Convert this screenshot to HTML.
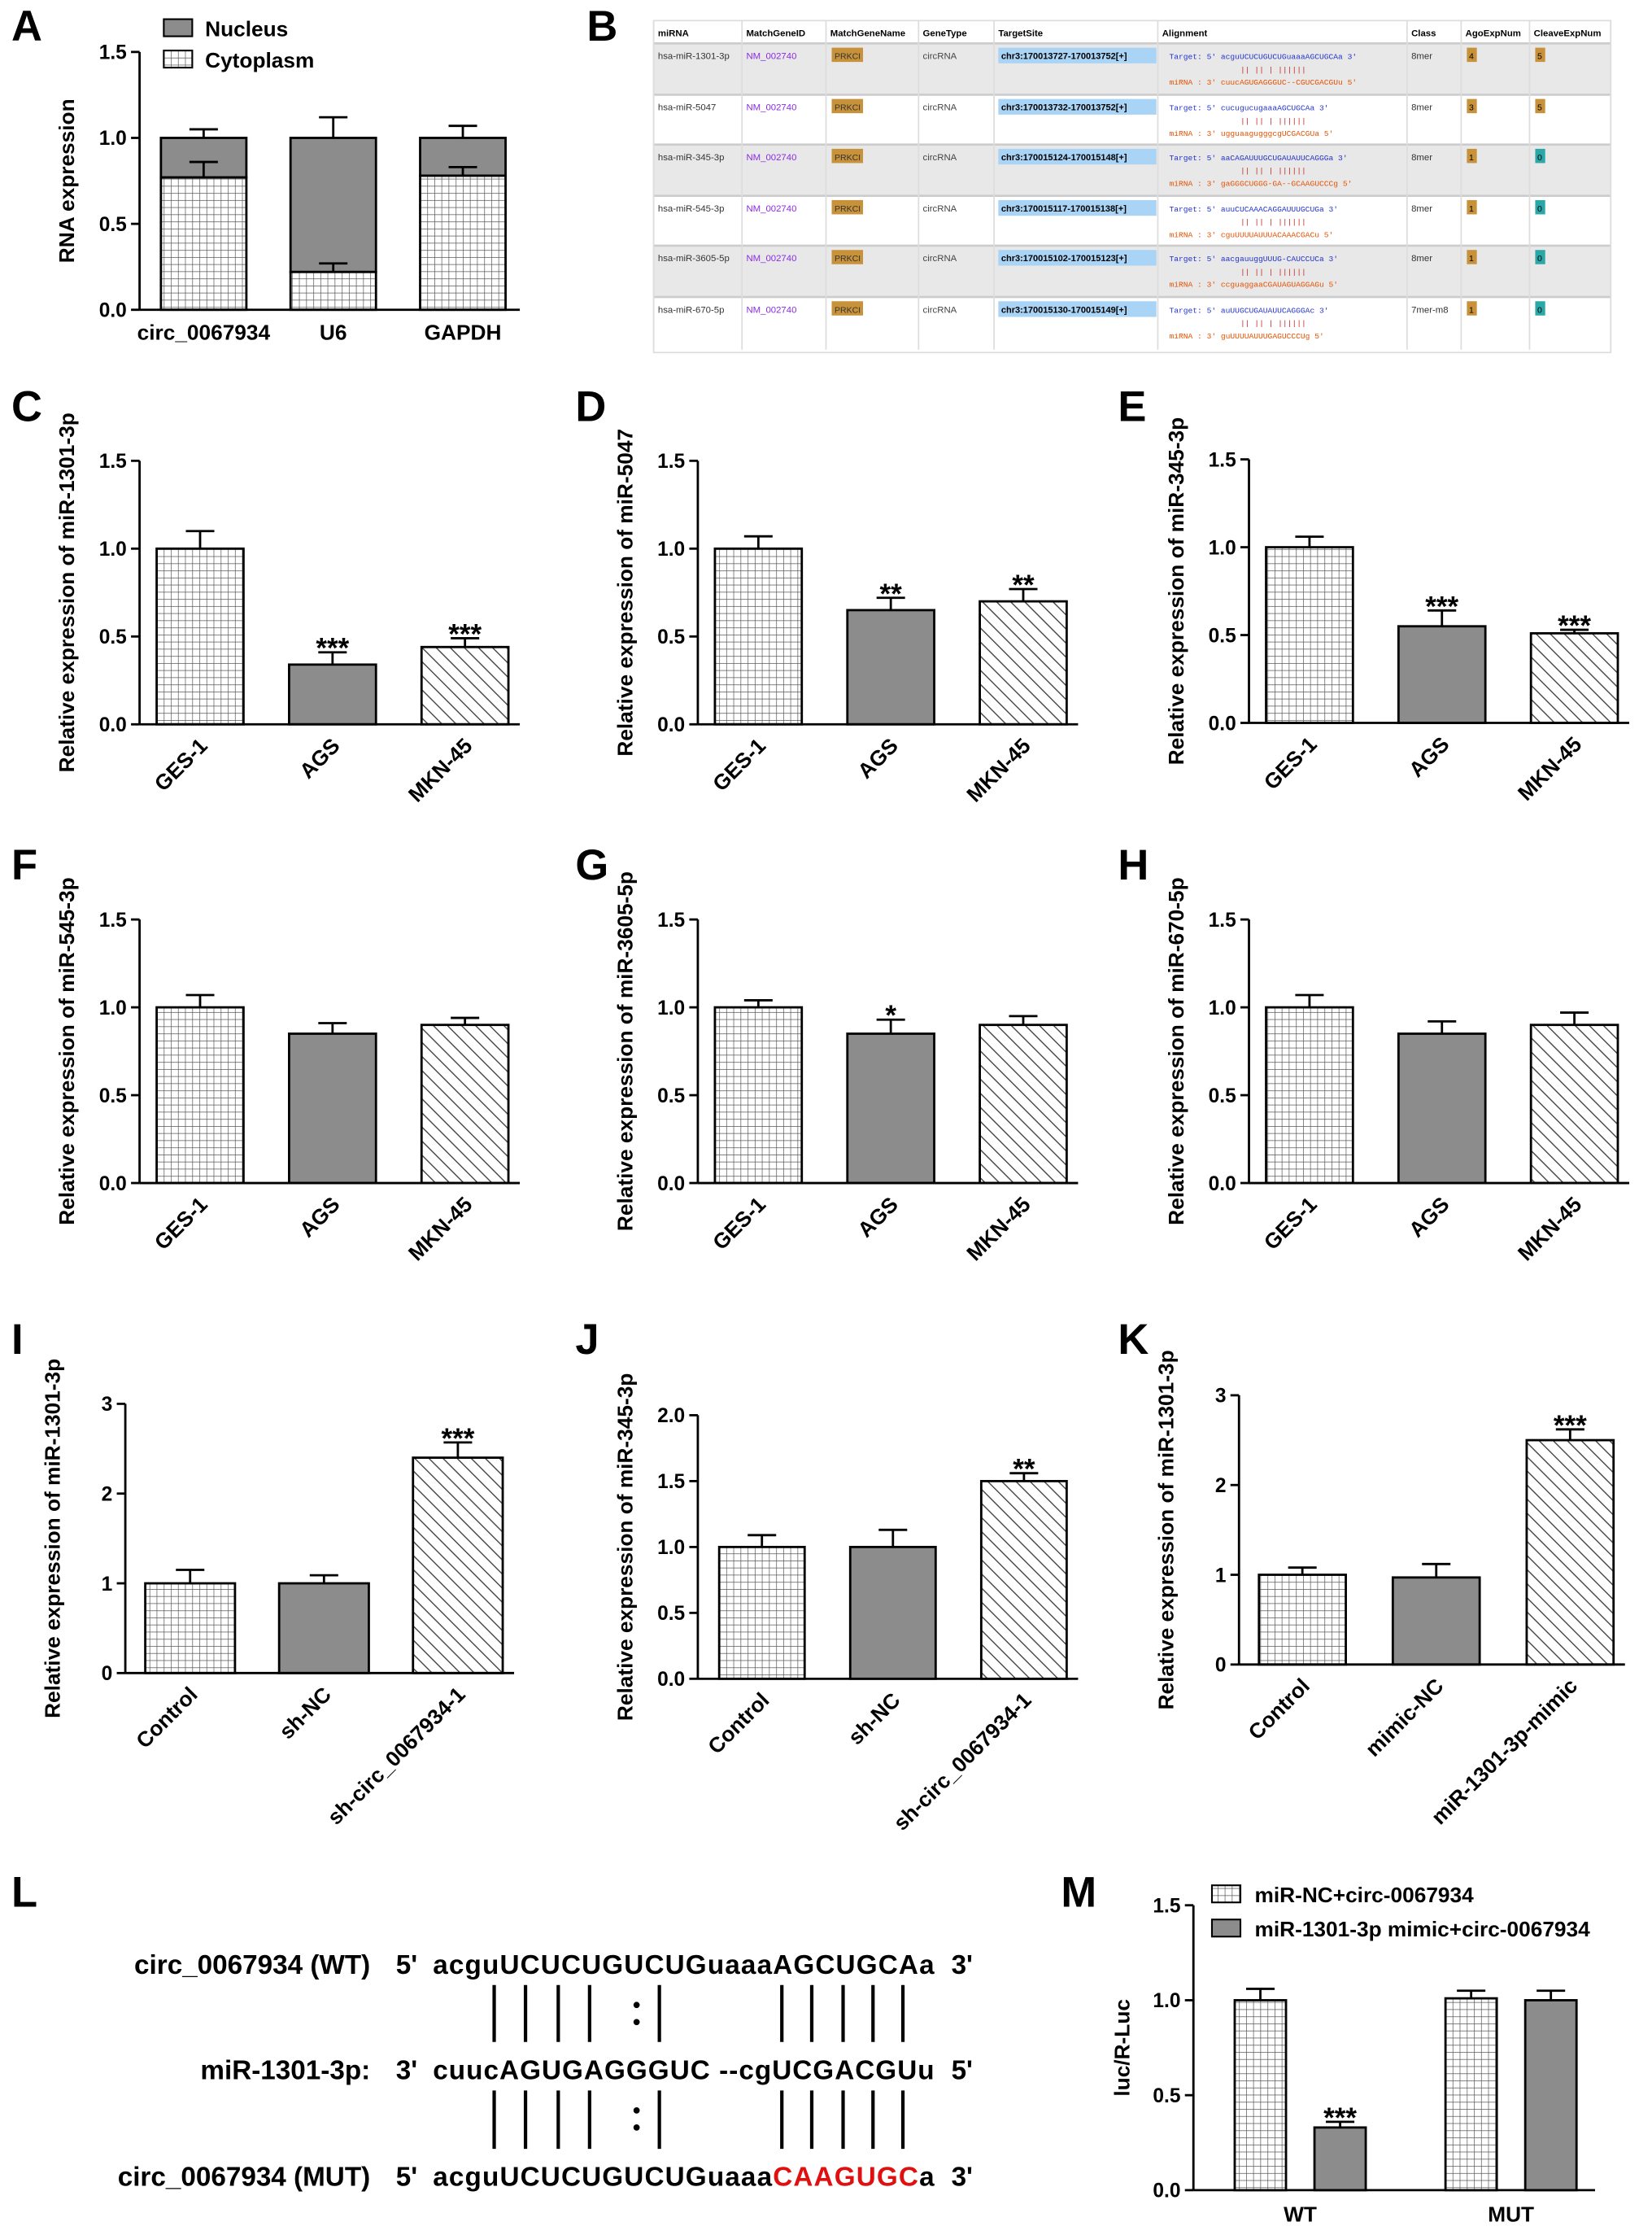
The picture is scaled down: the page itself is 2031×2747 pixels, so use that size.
<!DOCTYPE html>
<html><head><meta charset="utf-8">
<style>
html,body{margin:0;padding:0;background:#fff;}
svg{display:block;font-family:"Liberation Sans",Arial,sans-serif;}
</style></head>
<body>
<svg id="fig" width="2031" height="2747" viewBox="0 0 1160 1568" xmlns="http://www.w3.org/2000/svg">
<defs>
<pattern id="grid" width="5" height="5" patternUnits="userSpaceOnUse">
<rect width="5" height="5" fill="#fff"/><path d="M0 0H5M0 0V5" stroke="#555" stroke-width="0.8"/></pattern>
<pattern id="diag" width="7" height="7" patternUnits="userSpaceOnUse" patternTransform="rotate(-45)">
<rect width="7" height="7" fill="#fff"/><line x1="0" y1="0" x2="0" y2="7" stroke="#444" stroke-width="1.6"/></pattern>
</defs>
<g id="root"></g>
</svg>
<script>
// ---------- data ----------
const aCats=["circ_0067934","U6","GAPDH"];
const aCyto=[0.77,0.22,0.78];
const aCytoErr=[0.09,0.05,0.05];
const aTotal=[1.0,1.0,1.0];
const aTotalErr=[0.05,0.12,0.07];
const cellCats=["GES-1","AGS","MKN-45"];
const cVals=[1.0,0.34,0.44]; const cErr=[0.10,0.07,0.05]; const cStars=["","***","***"];
const dVals=[1.0,0.65,0.70]; const dErr=[0.07,0.07,0.07]; const dStars=["","**","**"];
const eVals=[1.0,0.55,0.51]; const eErr=[0.06,0.09,0.02]; const eStars=["","***","***"];
const fVals=[1.0,0.85,0.90]; const fErr=[0.07,0.06,0.04]; const fStars=["","",""];
const gVals=[1.0,0.85,0.90]; const gErr=[0.04,0.08,0.05]; const gStars=["","*",""];
const hVals=[1.0,0.85,0.90]; const hErr=[0.07,0.07,0.07]; const hStars=["","",""];
const iCats=["Control","sh-NC","sh-circ_0067934-1"];
const iVals=[1.0,1.0,2.4]; const iErr=[0.15,0.09,0.17]; const iStars=["","","***"];
const jVals=[1.0,1.0,1.5]; const jErr=[0.09,0.13,0.06]; const jStars=["","","**"];
const kCats=["Control","mimic-NC","miR-1301-3p-mimic"];
const kVals=[1.0,0.97,2.5]; const kErr=[0.08,0.15,0.12]; const kStars=["","","***"];
const mGroups=["WT","MUT"];
const mNC=[1.0,1.01]; const mNCErr=[0.06,0.04];
const mMimic=[0.33,1.0]; const mMimicErr=[0.03,0.05]; const mStars=["***",""];
const tick15=[0,0.5,1.0,1.5];
const tick3=[0,1,2,3];
const tick2=[0,0.5,1.0,1.5,2.0];

const NS="http://www.w3.org/2000/svg";
const root=document.getElementById('root');
function el(tag,attrs,parent,text){const e=document.createElementNS(NS,tag);for(const k in attrs)e.setAttribute(k,attrs[k]);if(text!==undefined)e.textContent=text;(parent||root).appendChild(e);return e;}

function axisY(g,ax,y0,yTop,max,ticks,labelTxt,lx,decimals){
  const sc=v=>y0-(v/max)*(y0-yTop);
  const yl=el('line',{x1:ax,y1:y0,x2:ax,y2:yTop,stroke:'#000','stroke-width':1.6},g);
  
  
  ticks.forEach(t=>{
    el('line',{x1:ax-6,y1:sc(t),x2:ax,y2:sc(t),stroke:'#000','stroke-width':1.6},g);
    const tl=el('text',{x:ax-9,y:sc(t)+5,'text-anchor':'end','font-size':14,'font-weight':'bold'},g,decimals?t.toFixed(1):String(t));
    
    
  });
  const cy=(y0+yTop)/2;
  const t=el('text',{x:lx,y:cy,'text-anchor':'middle','font-size':15,'font-weight':'bold',transform:`rotate(-90 ${lx} ${cy})`},g,labelTxt);
  
  
  return sc;
}
function errBar(g,cx,yv,ye){
  el('line',{x1:cx,y1:yv,x2:cx,y2:ye,stroke:'#000','stroke-width':1.6},g);
  el('line',{x1:cx-10,y1:ye,x2:cx+10,y2:ye,stroke:'#000','stroke-width':1.6},g);
}
function letter(x,y,ch){const t=el('text',{x:x,y:y,'font-size':30,'font-weight':'bold'},root,ch);
  
  }

function barPanel(name,ax,y0,yTop,max,ticks,dec,ylabel,cats,vals,errs,stars,x0,step,w){
  const g=el('g',{});
  
  
  const sc=axisY(g,ax,y0,yTop,max,ticks,ylabel,ax-46,dec);
  const fills=['url(#grid)','#8c8c8c','url(#diag)'];
  vals.forEach((v,i)=>{
    const x=x0+i*step, cx=x+w/2;
    errBar(g,cx,sc(v),sc(v+errs[i]));
    const r=el('rect',{x:x,y:sc(v),width:w,height:y0-sc(v),fill:fills[i],stroke:'#000','stroke-width':1.6},g);
    
    
    if(stars[i]){const s=el('text',{x:cx,y:sc(v+errs[i])+4,'text-anchor':'middle','font-size':20,'font-weight':'bold'},g,stars[i]);
      
      }
    const lx=cx+6, ly=y0+16;
    const t=el('text',{x:lx,y:ly,'text-anchor':'end','font-size':15,'font-weight':'bold',transform:`rotate(-45 ${lx} ${ly})`},g,cats[i]);
    
    
  });
  el('line',{x1:ax,y1:y0,x2:x0+2*step+w+8,y2:y0,stroke:'#000','stroke-width':1.6},g);
}

// ---------- Panel A ----------
(function(){
  const g=el('g',{});
  
  
  const ax=98,y0=217,yTop=36;
  const sc=axisY(g,ax,y0,yTop,1.5,tick15,'RNA expression',52,true);
  const xs=[113,204,295],w=60;
  aCats.forEach((c,i)=>{
    const cx=xs[i]+w/2;
    errBar(g,cx,sc(aTotal[i]),sc(aTotal[i]+aTotalErr[i]));
    const n=el('rect',{x:xs[i],y:sc(aTotal[i]),width:w,height:sc(aCyto[i])-sc(aTotal[i]),fill:'#8c8c8c',stroke:'#000','stroke-width':1.6},g);
    
    
    const cy=el('rect',{x:xs[i],y:sc(aCyto[i]),width:w,height:y0-sc(aCyto[i]),fill:'url(#grid)',stroke:'#000','stroke-width':1.6},g);
    
    
    errBar(g,cx,sc(aCyto[i]),sc(aCyto[i]+aCytoErr[i]));
    const t=el('text',{x:cx,y:y0+21,'text-anchor':'middle','font-size':15,'font-weight':'bold'},g,c);
    
    
  });
  el('line',{x1:ax,y1:y0,x2:365,y2:y0,stroke:'#000','stroke-width':1.6},g);
  [['Nucleus','#8c8c8c',22],['Cytoplasm','url(#grid)',44]].forEach(l=>{
    const r=el('rect',{x:115,y:l[2]-9,width:20,height:12,fill:l[1],stroke:'#000','stroke-width':1.2},g);
    
    
    const t=el('text',{x:144,y:l[2]+3,'font-size':15,'font-weight':'bold'},g,l[0]);
    
    
  });
})();

// ---------- Panel B (table) ----------
(function(){
  const g=el('g',{'font-size':6.5});
  
  
  const cols=[459,521,580,645,698,813,988,1026,1074,1131];
  const heads=['miRNA','MatchGeneID','MatchGeneName','GeneType','TargetSite','Alignment','Class','AgoExpNum','CleaveExpNum'];
  const rows=[
   ['hsa-miR-1301-3p','chr3:170013727-170013752[+]','acguUCUCUGUCUGuaaaAGCUGCAa','cuucAGUGAGGGUC--CGUCGACGUu','8mer','4','5'],
   ['hsa-miR-5047','chr3:170013732-170013752[+]','cucugucugaaaAGCUGCAa','ugguaagugggcgUCGACGUa','8mer','3','5'],
   ['hsa-miR-345-3p','chr3:170015124-170015148[+]','aaCAGAUUUGCUGAUAUUCAGGGa','gaGGGCUGGG-GA--GCAAGUCCCg','8mer','1','0'],
   ['hsa-miR-545-3p','chr3:170015117-170015138[+]','auuCUCAAACAGGAUUUGCUGa','cguUUUUAUUUACAAACGACu','8mer','1','0'],
   ['hsa-miR-3605-5p','chr3:170015102-170015123[+]','aacgauuggUUUG-CAUCCUCa','ccguaggaaCGAUAGUAGGAGu','8mer','1','0'],
   ['hsa-miR-670-5p','chr3:170015130-170015149[+]','auUUGCUGAUAUUCAGGGAc','guUUUUAUUUGAGUCCCUg','7mer-m8','1','0']];
  el('rect',{x:459,y:14,width:672,height:233,fill:'#fff',stroke:'#ddd'},g);
  heads.forEach((h,i)=>{const t=el('text',{x:cols[i]+3,y:25,'font-weight':'bold'},g,h);
    
    });
  const ry=[30,66,101,137,172,208,245];
  rows.forEach((r,k)=>{
    const y=ry[k],h=ry[k+1]-y;
    const bg=el('rect',{x:459,y:y,width:672,height:h,fill:k%2===0?'#e8e8e8':'#fff'},g);
    
    
    el('line',{x1:459,y1:y,x2:1131,y2:y,stroke:'#ccc','stroke-width':1.5},g);
    el('text',{x:cols[0]+3,y:y+11,fill:'#333'},g,r[0]);
    const lnk=el('text',{x:cols[1]+3,y:y+11,fill:'#8a2be2'},g,'NM_002740');
    
    
    el('rect',{x:cols[2]+4,y:y+3,width:22,height:10,fill:'#c8923a'},g);
    el('text',{x:cols[2]+6,y:y+11,fill:'#333','font-size':6},g,'PRKCI');
    el('text',{x:cols[3]+3,y:y+11,fill:'#444'},g,'circRNA');
    el('rect',{x:cols[4]+3,y:y+3,width:111,height:11,fill:'#a9d4f5'},g);
    el('text',{x:cols[4]+5,y:y+11,'font-weight':'bold','font-size':6.3},g,r[1]);
    el('text',{x:cols[5]+8,y:y+11,fill:'#2233cc','font-family':'Liberation Mono,monospace','font-size':5.5},g,"Target: 5' "+r[2]+" 3'");
    el('text',{x:cols[5]+58,y:y+20,fill:'#c62828','font-family':'Liberation Mono,monospace','font-size':5.5},g,"|| || |    ||||||");
    el('text',{x:cols[5]+8,y:y+29,fill:'#e65100','font-family':'Liberation Mono,monospace','font-size':5.5},g,"miRNA : 3' "+r[3]+" 5'");
    el('text',{x:cols[6]+3,y:y+11,fill:'#333'},g,r[4]);
    el('rect',{x:cols[7]+4,y:y+3,width:7,height:10,fill:'#c8923a'},g);
    el('text',{x:cols[7]+5.5,y:y+11,'font-size':6},g,r[5]);
    el('rect',{x:cols[8]+4,y:y+3,width:7,height:10,fill:r[6]==='5'?'#c8923a':'#2aa7a7'},g);
    el('text',{x:cols[8]+5.5,y:y+11,'font-size':6},g,r[6]);
  });
  cols.forEach(x=>el('line',{x1:x,y1:14,x2:x,y2:245,stroke:'#ddd','stroke-width':1},g));
})();

// ---------- Panels C–K ----------
barPanel('c',98,508,323,1.5,tick15,true,'Relative expression of miR-1301-3p',cellCats,cVals,cErr,cStars,110,93,61);
barPanel('d',490,508,323,1.5,tick15,true,'Relative expression of miR-5047',cellCats,dVals,dErr,dStars,502,93,61);
barPanel('e',877,507,322,1.5,tick15,true,'Relative expression of miR-345-3p',cellCats,eVals,eErr,eStars,889,93,61);
barPanel('f',98,830,645,1.5,tick15,true,'Relative expression of miR-545-3p',cellCats,fVals,fErr,fStars,110,93,61);
barPanel('g',490,830,645,1.5,tick15,true,'Relative expression of miR-3605-5p',cellCats,gVals,gErr,gStars,502,93,61);
barPanel('h',877,830,645,1.5,tick15,true,'Relative expression of miR-670-5p',cellCats,hVals,hErr,hStars,889,93,61);
barPanel('i',88,1174,985,3,tick3,false,'Relative expression of miR-1301-3p',iCats,iVals,iErr,iStars,102,94,63);
barPanel('j',490,1178,993,2,tick2,true,'Relative expression of miR-345-3p',iCats,jVals,jErr,jStars,505,92,60);
barPanel('k',870,1168,979,3,tick3,false,'Relative expression of miR-1301-3p',kCats,kVals,kErr,kStars,884,94,61);

// ---------- Panel L ----------
(function(){
  const g=el('g',{'font-size':19,'font-weight':'bold'});
  
  
  const lines=[[1385,'circ_0067934 (WT)',"5'","acguUCUCUGUCUGuaaaAGCUGCAa","3'"],
               [1459,'miR-1301-3p:',"3'","cuucAGUGAGGGUC --cgUCGACGUu","5'"],
               [1534,'circ_0067934 (MUT)',"5'",null,"3'"]];
  lines.forEach(l=>{
    el('text',{x:260,y:l[0],'text-anchor':'end'},g,l[1]);
    el('text',{x:278,y:l[0]},g,l[2]);
    if(l[3]){el('text',{x:304,y:l[0],textLength:352},g,l[3]);}
    else{const t=el('text',{x:304,y:l[0],textLength:352},g);
      el('tspan',{},t,'acguUCUCUGUCUGuaaa');el('tspan',{fill:'#e01010'},t,'CAAGUGC');el('tspan',{},t,'a');}
    el('text',{x:668,y:l[0]},g,l[4]);
  });
  const px=[347,369,392,414,463,549,570,592,613,634];
  [[1393,1433],[1467,1508]].forEach(r=>{
    px.forEach(x=>el('line',{x1:x,y1:r[0],x2:x,y2:r[1],stroke:'#000','stroke-width':2.4},g));
    el('circle',{cx:447,cy:r[0]+14,r:2.2},g);el('circle',{cx:447,cy:r[0]+26,r:2.2},g);
  });
})();

// ---------- Panel M ----------
(function(){
  const g=el('g',{});
  
  
  const ax=838,y0=1537,yTop=1337;
  const sc=axisY(g,ax,y0,yTop,1.5,tick15,'luc/R-Luc',793,true);
  const gx=[867,1015],w=36;
  mGroups.forEach((grp,i)=>{
    [[mNC,mNCErr,'url(#grid)',0],[mMimic,mMimicErr,'#8c8c8c',56]].forEach(s=>{
      const x=gx[i]+s[3],v=s[0][i];
      errBar(g,x+w/2,sc(v),sc(v+s[1][i]));
      const r=el('rect',{x:x,y:sc(v),width:w,height:y0-sc(v),fill:s[2],stroke:'#000','stroke-width':1.6},g);
      
      
    });
    if(mStars[i]){el('text',{x:gx[i]+56+w/2,y:sc(mMimic[i]+mMimicErr[i])+4,'text-anchor':'middle','font-size':20,'font-weight':'bold'},g,mStars[i]);}
    const t=el('text',{x:gx[i]+46,y:y0+22,'text-anchor':'middle','font-size':15,'font-weight':'bold'},g,grp);
    
    
  });
  el('line',{x1:ax,y1:y0,x2:1120,y2:y0,stroke:'#000','stroke-width':1.6},g);
  [['miR-NC+circ-0067934','url(#grid)',1333],['miR-1301-3p mimic+circ-0067934','#8c8c8c',1357]].forEach(l=>{
    el('rect',{x:851,y:l[2]-10,width:20,height:12,fill:l[1],stroke:'#000','stroke-width':1.2},g);
    const t=el('text',{x:881,y:l[2]+2,'font-size':15,'font-weight':'bold'},g,l[0]);
    
    
  });
})();

[['A',8,28],['B',412,28],['C',8,295],['D',404,295],['E',785,295],['F',8,617],['G',404,617],['H',785,617],['I',8,950],['J',404,950],['K',785,950],['L',8,1338],['M',745,1338]].forEach(a=>letter(a[1],a[2],a[0]));
</script>
</body></html>
